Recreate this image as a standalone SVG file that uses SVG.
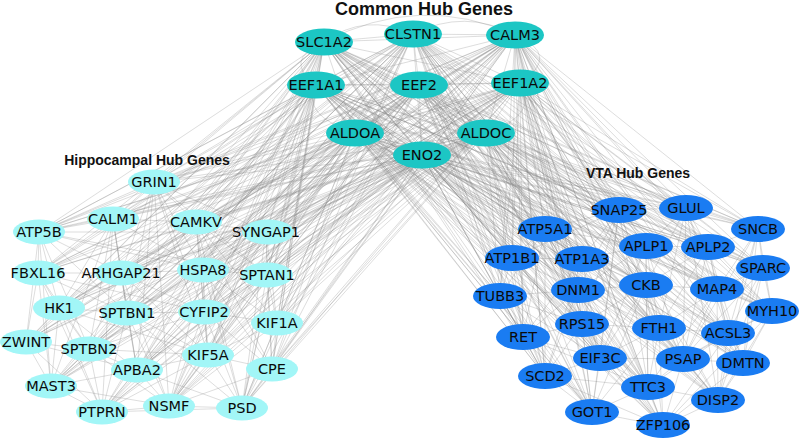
<svg xmlns="http://www.w3.org/2000/svg" width="800" height="438" viewBox="0 0 800 438">
<style>
.e{fill:none;stroke:#888;stroke-opacity:0.36;stroke-width:0.8}
.c{fill:#1cc6c4}
.h{fill:#a2f6f7}
.v{fill:#1a7cf2}
.n text{font-family:"DejaVu Sans","Liberation Sans",sans-serif;font-size:14.5px;fill:#0a0a0a;text-anchor:middle}
.t{font-family:"Liberation Sans",Arial,sans-serif;font-weight:bold;fill:#111;text-anchor:middle}
</style>
<rect width="800" height="438" fill="#fff"/>
<g id="connectors">
<path class="e" d="M324,42L413,34M324,42L515,35M324,42L316,85M324,42L419,85M324,42L520,83M324,42L355,133M324,42L486,133M324,42L422,155M413,34L515,35M413,34L316,85M413,34L419,85M413,34L520,83M413,34L355,133M413,34L486,133M413,34L422,155M515,35L316,85M515,35L419,85M515,35L520,83M515,35L355,133M515,35L486,133M515,35L422,155M316,85L419,85M316,85L520,83M316,85L355,133M316,85L486,133M316,85L422,155M419,85L520,83M419,85L355,133M419,85L486,133M419,85L422,155M520,83L355,133M520,83L486,133M520,83L422,155M355,133L486,133M355,133L422,155M486,133L422,155"/>
<path class="e" d="M324,42Q282,60 316,85M515,35Q562,55 520,83M324,42Q365,12 413,34M413,34Q465,8 515,35M324,42Q420,-8 515,35M316,85Q300,115 355,133M520,83Q540,115 486,133"/>
<path class="e" d="M324,42L154,182M324,42L113,219M324,42L196,222M324,42L39,232M324,42L266,232M324,42L38,273M324,42L121,273M324,42L203,270M324,42L267,275M324,42L59,308M324,42L127,313M324,42L204,312M324,42L277,323M324,42L26,342M324,42L89,349M324,42L208,355M324,42L137,370M324,42L272,369M324,42L51,386M324,42L169,406M324,42L102,412M324,42L242,408M324,42L619,210M324,42L686,208M324,42L545,229M324,42L758,229M324,42L646,246M324,42L708,247M324,42L512,258M324,42L582,259M324,42L763,268M324,42L646,285M324,42L578,290M324,42L717,289M324,42L500,296M324,42L772,311M324,42L582,324M324,42L523,337M324,42L659,328M324,42L728,333M324,42L600,358M324,42L683,359M324,42L743,363M324,42L545,376M324,42L648,387M324,42L718,400M324,42L592,412M324,42L663,426"/>
<path class="e" d="M413,34L154,182M413,34L113,219M413,34L196,222M413,34L39,232M413,34L266,232M413,34L38,273M413,34L121,273M413,34L203,270M413,34L267,275M413,34L59,308M413,34L127,313M413,34L204,312M413,34L277,323M413,34L26,342M413,34L89,349M413,34L208,355M413,34L137,370M413,34L272,369M413,34L51,386M413,34L169,406M413,34L102,412M413,34L242,408M413,34L619,210M413,34L686,208M413,34L545,229M413,34L758,229M413,34L646,246M413,34L708,247M413,34L512,258M413,34L582,259M413,34L763,268M413,34L646,285M413,34L578,290M413,34L717,289M413,34L500,296M413,34L772,311M413,34L582,324M413,34L523,337M413,34L659,328M413,34L728,333M413,34L600,358M413,34L683,359M413,34L743,363M413,34L545,376M413,34L648,387M413,34L718,400M413,34L592,412M413,34L663,426"/>
<path class="e" d="M515,35L154,182M515,35L113,219M515,35L196,222M515,35L39,232M515,35L266,232M515,35L38,273M515,35L121,273M515,35L203,270M515,35L267,275M515,35L59,308M515,35L127,313M515,35L204,312M515,35L277,323M515,35L26,342M515,35L89,349M515,35L208,355M515,35L137,370M515,35L272,369M515,35L51,386M515,35L169,406M515,35L102,412M515,35L242,408M515,35L619,210M515,35L686,208M515,35L545,229M515,35L758,229M515,35L646,246M515,35L708,247M515,35L512,258M515,35L582,259M515,35L763,268M515,35L646,285M515,35L578,290M515,35L717,289M515,35L500,296M515,35L772,311M515,35L582,324M515,35L523,337M515,35L659,328M515,35L728,333M515,35L600,358M515,35L683,359M515,35L743,363M515,35L545,376M515,35L648,387M515,35L718,400M515,35L592,412M515,35L663,426"/>
<path class="e" d="M316,85L154,182M316,85L113,219M316,85L196,222M316,85L39,232M316,85L266,232M316,85L38,273M316,85L121,273M316,85L203,270M316,85L267,275M316,85L59,308M316,85L127,313M316,85L204,312M316,85L277,323M316,85L26,342M316,85L89,349M316,85L208,355M316,85L137,370M316,85L272,369M316,85L51,386M316,85L169,406M316,85L102,412M316,85L242,408M316,85L619,210M316,85L686,208M316,85L545,229M316,85L758,229M316,85L646,246M316,85L708,247M316,85L512,258M316,85L582,259M316,85L763,268M316,85L646,285M316,85L578,290M316,85L717,289M316,85L500,296M316,85L772,311M316,85L582,324M316,85L523,337M316,85L659,328M316,85L728,333M316,85L600,358M316,85L683,359M316,85L743,363M316,85L545,376M316,85L648,387M316,85L718,400M316,85L592,412M316,85L663,426"/>
<path class="e" d="M419,85L154,182M419,85L113,219M419,85L196,222M419,85L39,232M419,85L266,232M419,85L38,273M419,85L121,273M419,85L203,270M419,85L267,275M419,85L59,308M419,85L127,313M419,85L204,312M419,85L277,323M419,85L26,342M419,85L89,349M419,85L208,355M419,85L137,370M419,85L272,369M419,85L51,386M419,85L169,406M419,85L102,412M419,85L242,408M419,85L619,210M419,85L686,208M419,85L545,229M419,85L758,229M419,85L646,246M419,85L708,247M419,85L512,258M419,85L582,259M419,85L763,268M419,85L646,285M419,85L578,290M419,85L717,289M419,85L500,296M419,85L772,311M419,85L582,324M419,85L523,337M419,85L659,328M419,85L728,333M419,85L600,358M419,85L683,359M419,85L743,363M419,85L545,376M419,85L648,387M419,85L718,400M419,85L592,412M419,85L663,426"/>
<path class="e" d="M520,83L154,182M520,83L113,219M520,83L196,222M520,83L39,232M520,83L266,232M520,83L38,273M520,83L121,273M520,83L203,270M520,83L267,275M520,83L59,308M520,83L127,313M520,83L204,312M520,83L277,323M520,83L26,342M520,83L89,349M520,83L208,355M520,83L137,370M520,83L272,369M520,83L51,386M520,83L169,406M520,83L102,412M520,83L242,408M520,83L619,210M520,83L686,208M520,83L545,229M520,83L758,229M520,83L646,246M520,83L708,247M520,83L512,258M520,83L582,259M520,83L763,268M520,83L646,285M520,83L578,290M520,83L717,289M520,83L500,296M520,83L772,311M520,83L582,324M520,83L523,337M520,83L659,328M520,83L728,333M520,83L600,358M520,83L683,359M520,83L743,363M520,83L545,376M520,83L648,387M520,83L718,400M520,83L592,412M520,83L663,426"/>
<path class="e" d="M355,133L154,182M355,133L113,219M355,133L196,222M355,133L39,232M355,133L266,232M355,133L38,273M355,133L121,273M355,133L203,270M355,133L267,275M355,133L59,308M355,133L127,313M355,133L204,312M355,133L277,323M355,133L26,342M355,133L89,349M355,133L208,355M355,133L137,370M355,133L272,369M355,133L51,386M355,133L169,406M355,133L102,412M355,133L242,408M355,133L619,210M355,133L686,208M355,133L545,229M355,133L758,229M355,133L646,246M355,133L708,247M355,133L512,258M355,133L582,259M355,133L763,268M355,133L646,285M355,133L578,290M355,133L717,289M355,133L500,296M355,133L772,311M355,133L582,324M355,133L523,337M355,133L659,328M355,133L728,333M355,133L600,358M355,133L683,359M355,133L743,363M355,133L545,376M355,133L648,387M355,133L718,400M355,133L592,412M355,133L663,426"/>
<path class="e" d="M486,133L154,182M486,133L113,219M486,133L196,222M486,133L39,232M486,133L266,232M486,133L38,273M486,133L121,273M486,133L203,270M486,133L267,275M486,133L59,308M486,133L127,313M486,133L204,312M486,133L277,323M486,133L26,342M486,133L89,349M486,133L208,355M486,133L137,370M486,133L272,369M486,133L51,386M486,133L169,406M486,133L102,412M486,133L242,408M486,133L619,210M486,133L686,208M486,133L545,229M486,133L758,229M486,133L646,246M486,133L708,247M486,133L512,258M486,133L582,259M486,133L763,268M486,133L646,285M486,133L578,290M486,133L717,289M486,133L500,296M486,133L772,311M486,133L582,324M486,133L523,337M486,133L659,328M486,133L728,333M486,133L600,358M486,133L683,359M486,133L743,363M486,133L545,376M486,133L648,387M486,133L718,400M486,133L592,412M486,133L663,426"/>
<path class="e" d="M422,155L154,182M422,155L113,219M422,155L196,222M422,155L39,232M422,155L266,232M422,155L38,273M422,155L121,273M422,155L203,270M422,155L267,275M422,155L59,308M422,155L127,313M422,155L204,312M422,155L277,323M422,155L26,342M422,155L89,349M422,155L208,355M422,155L137,370M422,155L272,369M422,155L51,386M422,155L169,406M422,155L102,412M422,155L242,408M422,155L619,210M422,155L686,208M422,155L545,229M422,155L758,229M422,155L646,246M422,155L708,247M422,155L512,258M422,155L582,259M422,155L763,268M422,155L646,285M422,155L578,290M422,155L717,289M422,155L500,296M422,155L772,311M422,155L582,324M422,155L523,337M422,155L659,328M422,155L728,333M422,155L600,358M422,155L683,359M422,155L743,363M422,155L545,376M422,155L648,387M422,155L718,400M422,155L592,412M422,155L663,426"/>
<path class="e" d="M154,182L113,219M154,182L196,222M154,182L39,232M154,182L121,273M154,182L203,270M154,182L127,313M154,182L204,312M154,182L208,355M154,182L137,370M154,182L169,406M154,182L266,232M154,182L267,275"/>
<path class="e" d="M113,219L196,222M113,219L39,232M113,219L38,273M113,219L121,273M113,219L203,270M113,219L127,313M113,219L89,349M113,219L137,370M113,219L51,386M113,219L102,412M113,219L59,308"/>
<path class="e" d="M196,222L266,232M196,222L203,270M196,222L267,275M196,222L204,312M196,222L277,323M196,222L208,355M196,222L272,369M196,222L242,408M196,222L121,273"/>
<path class="e" d="M39,232L38,273M39,232L59,308M39,232L26,342M39,232L121,273M39,232L127,313M39,232L89,349M39,232L51,386M39,232L203,270M39,232L266,232M39,232L267,275"/>
<path class="e" d="M266,232L203,270M266,232L267,275M266,232L204,312M266,232L277,323M266,232L208,355M266,232L272,369M266,232L242,408M266,232L121,273M266,232L169,406"/>
<path class="e" d="M38,273L121,273M38,273L59,308M38,273L26,342M38,273L127,313M38,273L89,349M38,273L51,386M38,273L102,412M38,273L204,312"/>
<path class="e" d="M121,273L203,270M121,273L59,308M121,273L127,313M121,273L204,312M121,273L89,349M121,273L137,370M121,273L169,406M121,273L208,355"/>
<path class="e" d="M203,270L267,275M203,270L127,313M203,270L204,312M203,270L277,323M203,270L208,355M203,270L137,370M203,270L272,369M203,270L242,408M203,270L169,406"/>
<path class="e" d="M267,275L204,312M267,275L277,323M267,275L208,355M267,275L272,369M267,275L242,408M267,275L169,406M267,275L137,370"/>
<path class="e" d="M59,308L127,313M59,308L26,342M59,308L89,349M59,308L137,370M59,308L51,386M59,308L102,412M59,308L208,355"/>
<path class="e" d="M127,313L204,312M127,313L89,349M127,313L208,355M127,313L137,370M127,313L51,386M127,313L169,406M127,313L102,412M127,313L242,408"/>
<path class="e" d="M204,312L277,323M204,312L208,355M204,312L137,370M204,312L272,369M204,312L169,406M204,312L242,408M204,312L89,349"/>
<path class="e" d="M277,323L208,355M277,323L272,369M277,323L242,408M277,323L169,406"/>
<path class="e" d="M26,342L89,349M26,342L51,386M26,342L102,412M26,342L137,370"/>
<path class="e" d="M89,349L137,370M89,349L51,386M89,349L169,406M89,349L102,412M89,349L208,355"/>
<path class="e" d="M208,355L137,370M208,355L272,369M208,355L169,406M208,355L242,408M208,355L102,412"/>
<path class="e" d="M137,370L51,386M137,370L169,406M137,370L102,412M137,370L242,408M272,369L169,406M272,369L242,408M51,386L102,412M51,386L169,406M169,406L102,412M169,406L242,408M102,412L242,408"/>
<path class="e" d="M619,210L686,208M619,210L545,229M619,210L646,246M619,210L708,247M619,210L582,259M619,210L646,285M619,210L578,290M619,210L582,324M619,210L659,328M619,210L600,358M619,210L648,387M619,210L592,412M619,210L512,258"/>
<path class="e" d="M686,208L758,229M686,208L646,246M686,208L708,247M686,208L763,268M686,208L646,285M686,208L717,289M686,208L659,328M686,208L728,333M686,208L683,359M686,208L718,400"/>
<path class="e" d="M545,229L512,258M545,229L582,259M545,229L578,290M545,229L500,296M545,229L582,324M545,229L523,337M545,229L600,358M545,229L545,376M545,229L646,246M545,229L646,285"/>
<path class="e" d="M758,229L708,247M758,229L763,268M758,229L717,289M758,229L772,311M758,229L728,333M758,229L743,363M758,229L718,400M758,229L683,359"/>
<path class="e" d="M646,246L708,247M646,246L582,259M646,246L646,285M646,246L578,290M646,246L717,289M646,246L659,328M646,246L600,358M646,246L683,359M646,246L648,387"/>
<path class="e" d="M708,247L763,268M708,247L646,285M708,247L717,289M708,247L772,311M708,247L659,328M708,247L728,333M708,247L683,359M708,247L743,363"/>
<path class="e" d="M512,258L582,259M512,258L578,290M512,258L500,296M512,258L582,324M512,258L523,337M512,258L545,376M512,258L600,358M512,258L592,412"/>
<path class="e" d="M582,259L646,285M582,259L578,290M582,259L582,324M582,259L523,337M582,259L659,328M582,259L600,358M582,259L545,376M582,259L648,387"/>
<path class="e" d="M763,268L717,289M763,268L772,311M763,268L728,333M763,268L743,363M763,268L718,400M763,268L683,359"/>
<path class="e" d="M646,285L578,290M646,285L717,289M646,285L582,324M646,285L659,328M646,285L600,358M646,285L683,359M646,285L648,387M646,285L592,412M646,285L663,426"/>
<path class="e" d="M578,290L500,296M578,290L582,324M578,290L523,337M578,290L659,328M578,290L600,358M578,290L545,376M578,290L648,387M578,290L592,412"/>
<path class="e" d="M717,289L772,311M717,289L659,328M717,289L728,333M717,289L683,359M717,289L743,363M717,289L718,400M717,289L648,387"/>
<path class="e" d="M500,296L582,324M500,296L523,337M500,296L545,376M500,296L592,412M500,296L600,358"/>
<path class="e" d="M772,311L728,333M772,311L743,363M772,311L718,400M772,311L683,359M772,311L663,426"/>
<path class="e" d="M582,324L523,337M582,324L659,328M582,324L600,358M582,324L545,376M582,324L648,387M582,324L592,412M582,324L663,426"/>
<path class="e" d="M523,337L600,358M523,337L545,376M523,337L592,412M523,337L648,387"/>
<path class="e" d="M659,328L728,333M659,328L600,358M659,328L683,359M659,328L648,387M659,328L718,400M659,328L592,412M659,328L663,426"/>
<path class="e" d="M728,333L683,359M728,333L743,363M728,333L718,400M728,333L648,387M728,333L663,426"/>
<path class="e" d="M600,358L683,359M600,358L545,376M600,358L648,387M600,358L592,412M600,358L663,426"/>
<path class="e" d="M683,359L743,363M683,359L648,387M683,359L718,400M683,359L663,426"/>
<path class="e" d="M743,363L718,400M743,363L663,426M545,376L592,412M545,376L648,387M545,376L663,426"/>
<path class="e" d="M648,387L718,400M648,387L592,412M648,387L663,426M718,400L663,426M592,412L663,426"/>
</g>
<text class="t" x="424" y="15" font-size="18">Common Hub Genes</text>
<text class="t" x="147" y="165" font-size="14">Hippocampal Hub Genes</text>
<text class="t" x="638" y="178" font-size="14">VTA Hub Genes</text>
<g class="n">
<g id="SLC1A2"><ellipse class="c" cx="324" cy="42" rx="29" ry="13.5"/><text x="324" y="47">SLC1A2</text></g>
<g id="CLSTN1"><ellipse class="c" cx="413" cy="34" rx="29" ry="13.5"/><text x="413" y="39">CLSTN1</text></g>
<g id="CALM3"><ellipse class="c" cx="515" cy="35" rx="29" ry="13.5"/><text x="515" y="40">CALM3</text></g>
<g id="EEF1A1"><ellipse class="c" cx="316" cy="85" rx="29" ry="13.5"/><text x="316" y="90">EEF1A1</text></g>
<g id="EEF2"><ellipse class="c" cx="419" cy="85" rx="29" ry="13.5"/><text x="419" y="90">EEF2</text></g>
<g id="EEF1A2"><ellipse class="c" cx="520" cy="83" rx="29" ry="13.5"/><text x="520" y="88">EEF1A2</text></g>
<g id="ALDOA"><ellipse class="c" cx="355" cy="133" rx="29" ry="13.5"/><text x="355" y="138">ALDOA</text></g>
<g id="ALDOC"><ellipse class="c" cx="486" cy="133" rx="29" ry="13.5"/><text x="486" y="138">ALDOC</text></g>
<g id="ENO2"><ellipse class="c" cx="422" cy="155" rx="29" ry="13.5"/><text x="422" y="160">ENO2</text></g>

<g id="GRIN1"><ellipse class="h" cx="154" cy="182" rx="26" ry="12.5"/><text x="154" y="187">GRIN1</text></g>
<g id="CALM1"><ellipse class="h" cx="113" cy="219" rx="26" ry="12.5"/><text x="113" y="224">CALM1</text></g>
<g id="CAMKV"><ellipse class="h" cx="196" cy="222" rx="26" ry="12.5"/><text x="196" y="227">CAMKV</text></g>
<g id="ATP5B"><ellipse class="h" cx="39" cy="232" rx="26" ry="12.5"/><text x="39" y="237">ATP5B</text></g>
<g id="SYNGAP1"><ellipse class="h" cx="268" cy="232" rx="26" ry="12.5"/><text x="266" y="237">SYNGAP1</text></g>
<g id="FBXL16"><ellipse class="h" cx="38" cy="273" rx="26" ry="12.5"/><text x="38" y="278">FBXL16</text></g>
<g id="ARHGAP21"><ellipse class="h" cx="121" cy="273" rx="26" ry="12.5"/><text x="121" y="278">ARHGAP21</text></g>
<g id="HSPA8"><ellipse class="h" cx="203" cy="270" rx="26" ry="12.5"/><text x="203" y="275">HSPA8</text></g>
<g id="SPTAN1"><ellipse class="h" cx="267" cy="275" rx="26" ry="12.5"/><text x="267" y="280">SPTAN1</text></g>
<g id="HK1"><ellipse class="h" cx="59" cy="308" rx="26" ry="12.5"/><text x="59" y="313">HK1</text></g>
<g id="SPTBN1"><ellipse class="h" cx="127" cy="313" rx="26" ry="12.5"/><text x="127" y="318">SPTBN1</text></g>
<g id="CYFIP2"><ellipse class="h" cx="204" cy="312" rx="26" ry="12.5"/><text x="204" y="317">CYFIP2</text></g>
<g id="KIF1A"><ellipse class="h" cx="277" cy="323" rx="26" ry="12.5"/><text x="277" y="328">KIF1A</text></g>
<g id="ZWINT"><ellipse class="h" cx="26" cy="342" rx="26" ry="12.5"/><text x="26" y="347">ZWINT</text></g>
<g id="SPTBN2"><ellipse class="h" cx="89" cy="349" rx="26" ry="12.5"/><text x="89" y="354">SPTBN2</text></g>
<g id="KIF5A"><ellipse class="h" cx="208" cy="355" rx="26" ry="12.5"/><text x="208" y="360">KIF5A</text></g>
<g id="APBA2"><ellipse class="h" cx="137" cy="370" rx="26" ry="12.5"/><text x="137" y="375">APBA2</text></g>
<g id="CPE"><ellipse class="h" cx="272" cy="369" rx="26" ry="12.5"/><text x="272" y="374">CPE</text></g>
<g id="MAST3"><ellipse class="h" cx="51" cy="386" rx="26" ry="12.5"/><text x="51" y="391">MAST3</text></g>
<g id="NSMF"><ellipse class="h" cx="169" cy="406" rx="26" ry="12.5"/><text x="169" y="411">NSMF</text></g>
<g id="PTPRN"><ellipse class="h" cx="102" cy="412" rx="26" ry="12.5"/><text x="102" y="417">PTPRN</text></g>
<g id="PSD"><ellipse class="h" cx="242" cy="408" rx="26" ry="12.5"/><text x="242" y="413">PSD</text></g>

<g id="SNAP25"><ellipse class="v" cx="619" cy="210" rx="27" ry="13"/><text x="619" y="215">SNAP25</text></g>
<g id="GLUL"><ellipse class="v" cx="686" cy="208" rx="27" ry="13"/><text x="686" y="213">GLUL</text></g>
<g id="ATP5A1"><ellipse class="v" cx="545" cy="229" rx="27" ry="13"/><text x="545" y="234">ATP5A1</text></g>
<g id="SNCB"><ellipse class="v" cx="758" cy="229" rx="27" ry="13"/><text x="758" y="234">SNCB</text></g>
<g id="APLP1"><ellipse class="v" cx="646" cy="246" rx="27" ry="13"/><text x="646" y="251">APLP1</text></g>
<g id="APLP2"><ellipse class="v" cx="708" cy="247" rx="27" ry="13"/><text x="708" y="252">APLP2</text></g>
<g id="ATP1B1"><ellipse class="v" cx="512" cy="258" rx="27" ry="13"/><text x="512" y="263">ATP1B1</text></g>
<g id="ATP1A3"><ellipse class="v" cx="582" cy="259" rx="27" ry="13"/><text x="582" y="264">ATP1A3</text></g>
<g id="SPARC"><ellipse class="v" cx="763" cy="268" rx="27" ry="13"/><text x="763" y="273">SPARC</text></g>
<g id="CKB"><ellipse class="v" cx="646" cy="285" rx="27" ry="13"/><text x="646" y="290">CKB</text></g>
<g id="DNM1"><ellipse class="v" cx="578" cy="290" rx="27" ry="13"/><text x="578" y="295">DNM1</text></g>
<g id="MAP4"><ellipse class="v" cx="717" cy="289" rx="27" ry="13"/><text x="717" y="294">MAP4</text></g>
<g id="TUBB3"><ellipse class="v" cx="500" cy="296" rx="27" ry="13"/><text x="500" y="301">TUBB3</text></g>
<g id="MYH10"><ellipse class="v" cx="772" cy="311" rx="27" ry="13"/><text x="772" y="316">MYH10</text></g>
<g id="RPS15"><ellipse class="v" cx="582" cy="324" rx="27" ry="13"/><text x="582" y="329">RPS15</text></g>
<g id="RET"><ellipse class="v" cx="523" cy="337" rx="27" ry="13"/><text x="523" y="342">RET</text></g>
<g id="FTH1"><ellipse class="v" cx="659" cy="328" rx="27" ry="13"/><text x="659" y="333">FTH1</text></g>
<g id="ACSL3"><ellipse class="v" cx="728" cy="333" rx="27" ry="13"/><text x="728" y="338">ACSL3</text></g>
<g id="EIF3C"><ellipse class="v" cx="600" cy="358" rx="27" ry="13"/><text x="600" y="363">EIF3C</text></g>
<g id="PSAP"><ellipse class="v" cx="683" cy="359" rx="27" ry="13"/><text x="683" y="364">PSAP</text></g>
<g id="DMTN"><ellipse class="v" cx="743" cy="363" rx="27" ry="13"/><text x="743" y="368">DMTN</text></g>
<g id="SCD2"><ellipse class="v" cx="545" cy="376" rx="27" ry="13"/><text x="545" y="381">SCD2</text></g>
<g id="TTC3"><ellipse class="v" cx="648" cy="387" rx="27" ry="13"/><text x="648" y="392">TTC3</text></g>
<g id="DISP2"><ellipse class="v" cx="718" cy="400" rx="27" ry="13"/><text x="718" y="405">DISP2</text></g>
<g id="GOT1"><ellipse class="v" cx="592" cy="412" rx="27" ry="13"/><text x="592" y="417">GOT1</text></g>
<g id="ZFP106"><ellipse class="v" cx="663" cy="425" rx="27" ry="13"/><text x="663" y="430">ZFP106</text></g>
</g>
</svg>
